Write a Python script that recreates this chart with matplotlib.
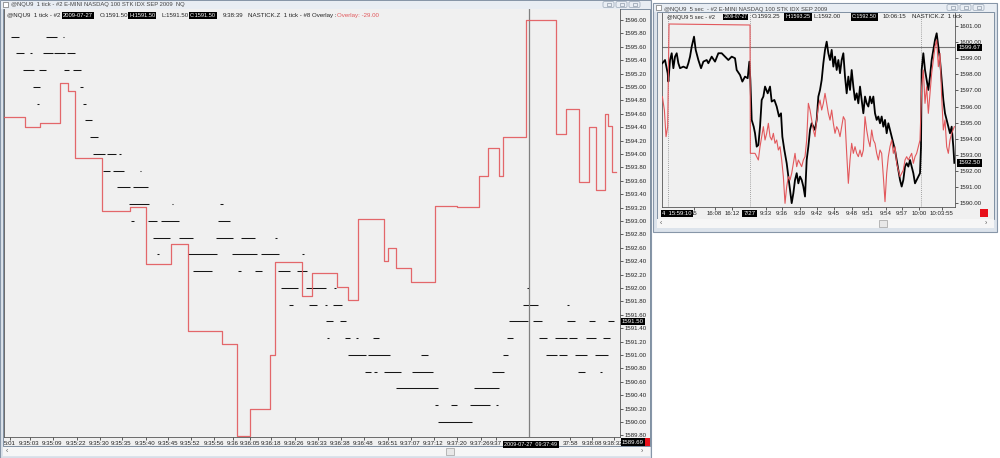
import matplotlib
matplotlib.use('Agg')
import matplotlib.pyplot as plt
from matplotlib.patches import Rectangle, FancyBboxPatch
import matplotlib.transforms as mtrans
import numpy as np

plt.rcParams['font.family'] = ['Liberation Sans', 'DejaVu Sans']

W, H = 1000, 458

# ---------------- LEFT CHART DATA (@NQU9 1 tick) ----------------
left_price_ticks = np.round(np.arange(1589.80, 1596.01, 0.20), 2)

left_time_labels = ["5:01", "9:35:03", "9:35:09", "9:35:22", "9:35:30", "9:35:35", "9:35:40",
                    "9:35:45", "9:35:52", "9:35:56", "9:36", "9:36:05", "9:36:18", "9:36:26",
                    "9:36:33", "9:36:38", "9:36:48", "9:36:51", "9:37:07", "9:37:12", "9:37:20",
                    "9:37:26", "9:37", "37:58", "9:38:08", "9:38:32"]
left_time_pos = [10, 29.5, 52.5, 76.5, 99.5, 121.5, 145.5, 168, 190.5, 213.5, 233, 249.5, 271,
                 294.5, 317.5, 340.5, 363.5, 387.5, 410.5, 433.5, 457, 480.5, 496, 570, 592, 613.5]

# 1-tick prints: price level -> runs of consecutive ticks (start bar, end bar)
tick_runs = {
    1595.75: [(11, 19), (46, 57), (63, 64)],
    1595.50: [(16, 24), (30, 32), (43, 53), (54, 65), (67, 75)],
    1595.25: [(23, 34), (39, 46), (64, 69), (73, 81)],
    1595.00: [(33, 40), (80, 83)],
    1594.75: [(37, 39), (83, 86)],
    1594.50: [(85, 92)],
    1594.25: [(90, 98)],
    1594.00: [(93, 105), (107, 116), (119, 121)],
    1593.75: [(103, 110), (113, 124), (140, 141)],
    1593.50: [(117, 130), (133, 148)],
    1593.25: [(129, 149), (172, 173), (220, 223)],
    1593.00: [(131, 134), (148, 157), (161, 179), (218, 230)],
    1592.75: [(153, 170), (179, 193), (216, 233), (241, 255), (275, 277)],
    1592.50: [(157, 159), (188, 217), (232, 257), (261, 279), (302, 304)],
    1592.25: [(193, 212), (238, 241), (255, 262), (278, 290), (297, 307)],
    1592.00: [(281, 298), (306, 326), (334, 336), (527, 529)],
    1591.75: [(289, 293), (309, 317), (325, 327), (333, 342), (523, 538), (567, 569)],
    1591.50: [(326, 333), (340, 346), (509, 528), (533, 542), (567, 575), (589, 595), (608, 614)],
    1591.25: [(327, 329), (345, 350), (356, 358), (373, 379), (507, 513), (539, 547), (555, 567),
              (569, 577), (586, 596), (603, 610)],
    1591.00: [(348, 366), (368, 390), (421, 428), (503, 508), (546, 557), (559, 567), (575, 587),
              (595, 608)],
    1590.75: [(365, 371), (374, 377), (384, 401), (412, 433), (492, 504), (578, 585), (600, 602)],
    1590.50: [(396, 438), (474, 499)],
    1590.25: [(435, 438), (451, 457), (470, 490), (496, 498)],
    1590.00: [(438, 472)],
    1589.75: [(449, 452), (466, 471)],
}

# NASTICK.Z overlay (step line)
nastick_x = [4, 25, 40, 60, 68, 74.5, 102, 130, 146, 171, 187.5, 222, 237, 250, 270, 275, 302,
             312, 337, 348, 358, 384, 388, 396, 411, 435, 457, 479, 488, 499, 503, 526, 556, 566,
             579, 589, 596, 605, 608, 612, 616]
nastick_v = [26, 16, 20, 60, 52, -15, -68, -64, -121, -101, -188, -201, -293, -266, -212, -119,
             -153, -130, -144, -157, -76, -118, -105, -125, -139, -63, -64, -33, -5, -33, 6, 123,
             9, 34, -39, 16, -47, 29, 17, -29, -29]

left_last_price = 1591.50
left_cross_x = 529
left_cross_label = "2009-07-27  09:37:49"

# ---------------- RIGHT CHART DATA (@NQU9 5 sec) ----------------
right_price_ticks = [1590, 1591, 1592, 1593, 1594, 1595, 1596, 1597, 1598, 1599, 1600, 1601]
right_x = [22, 30, 38, 40, 45, 50, 55, 60, 65, 70, 75, 85, 95, 100, 105, 110, 117, 122, 130, 138,
           145, 155, 160, 170, 180, 190, 200, 210, 220, 230, 240, 245, 255, 262, 270, 278, 283,
           286, 290, 296, 300, 305, 310, 315, 320, 325, 330, 338, 345, 350, 358, 365, 372, 378,
           382, 388, 395, 400, 405, 410, 415, 420, 425, 430, 435, 440, 445, 450, 455, 460, 465,
           470, 475, 480, 485, 490, 495, 500, 505, 510, 515, 520, 525, 530, 535, 540, 545, 550,
           555, 560, 565, 570, 575, 580, 585, 590, 595, 600, 605, 610, 615, 620, 625, 630, 635,
           640, 645, 650, 655, 660, 665, 670, 675, 680, 685, 690, 695, 700, 705, 710, 715, 720,
           725, 730, 735, 740, 745, 750, 755, 760, 765, 770, 775, 780, 785, 790, 795, 798, 800,
           805, 810, 815, 820, 825, 830, 835, 840, 845, 850, 855, 860, 865, 870, 875, 880, 885,
           890, 895, 898]
right_price = [1598.69, 1598.89, 1598.07, 1597.55, 1598.89, 1599.31, 1598.38, 1599.10, 1599.31,
               1598.69, 1598.38, 1598.48, 1598.38, 1598.69, 1599.10, 1599.72, 1600.34, 1599.52,
               1598.89, 1598.38, 1598.79, 1598.89, 1598.69, 1599.10, 1598.79, 1599.31, 1599.31,
               1599.10, 1598.89, 1599.10, 1599.00, 1598.27, 1597.96, 1597.55, 1597.86, 1597.76,
               1598.79, 1597.65, 1595.17, 1594.75, 1594.34, 1593.51, 1593.61, 1594.75, 1596.41,
               1596.62, 1597.24, 1596.82, 1597.24, 1596.31, 1596.41, 1596.00, 1595.38, 1595.58,
               1594.13, 1593.30, 1592.48, 1591.65, 1590.82, 1590.00, 1590.61, 1591.44, 1591.86,
               1591.23, 1591.65, 1591.44, 1591.03, 1590.41, 1592.68, 1593.51, 1594.55, 1594.96,
               1594.75, 1594.55, 1595.17, 1596.62, 1597.03, 1597.65, 1598.69, 1599.52, 1600.03,
               1599.31, 1598.89, 1599.52, 1598.48, 1599.10, 1598.27, 1598.89, 1598.07, 1598.89,
               1599.31, 1597.86, 1596.82, 1597.86, 1597.03, 1598.27, 1597.24, 1596.41, 1596.82,
               1596.20, 1597.24, 1596.41, 1595.58, 1596.62, 1596.20, 1596.00, 1596.62, 1596.20,
               1596.62, 1595.58, 1595.17, 1595.38, 1594.96, 1595.38, 1594.75, 1595.17, 1594.34,
               1594.96, 1594.55, 1594.13, 1593.72, 1593.30, 1592.68, 1592.06, 1591.44, 1591.03,
               1591.44, 1592.27, 1592.48, 1592.27, 1592.68, 1592.27, 1591.86, 1591.23, 1591.44,
               1591.65, 1591.86, 1593.51, 1598.27, 1599.31, 1598.27, 1597.65, 1597.03, 1597.86,
               1598.89, 1599.52, 1600.14, 1600.55, 1599.72, 1598.89, 1597.65, 1596.41, 1595.58,
               1595.17, 1594.75, 1594.34, 1594.75, 1593.50, 1592.50]

red_right_x = [22, 28, 33, 38, 42, 285, 286, 300, 305, 310, 315, 320, 325, 330, 335, 340, 345, 350,
               355, 360, 365, 370, 375, 380, 385, 390, 395, 400, 405, 410, 415, 420, 425, 430, 435,
               440, 445, 450, 455, 460, 465, 470, 475, 480, 485, 490, 495, 500, 505, 510, 515, 520,
               525, 530, 535, 540, 545, 550, 555, 560, 565, 570, 575, 580, 585, 590, 595, 600, 605,
               610, 615, 620, 625, 630, 635, 640, 645, 650, 655, 660, 665, 670, 675, 680, 685, 690,
               695, 700, 705, 710, 715, 720, 725, 730, 735, 740, 745, 750, 755, 760, 765, 770, 775,
               780, 785, 790, 795, 800, 805, 810, 815, 820, 825, 830, 835, 840, 845, 850, 855, 860,
               865, 870, 875, 880, 885, 890, 898]
red_right_v = [100, 60, -20, 10, 318, 315, -70, -70, -80, -90, -50, -20, 10, -30, -10, 20, -20, -30,
               -10, -40, -30, -60, -50, -90, -140, -220, -170, -140, -150, -130, -100, -70, -110,
               -90, -100, -110, -90, -80, -30, 80, 60, 30, 0, -20, 30, 70, 90, 60, 80, 110, 80, 50,
               30, 60, 20, -10, 10, 0, -20, 10, 40, 30, -70, -160, -90, -40, -70, -50, -70, -80,
               -60, -80, -60, 40, 0, -30, -50, 0, -30, -40, -70, -90, -60, -70, -140, -215, -130,
               -80, -50, -30, -70, -50, -100, -120, -140, -130, -120, -90, -80, -90, -80, -70, -100,
               -80, -70, -50, -30, 130, 180, 80, 130, 50, 110, 170, 210, 250, 270, 190, 230, 100, 0,
               30, -50, -70, -30, -10, 10]

right_time_labels = ["55", "16:08", "16:12", "9:33", "9:36", "9:39", "9:42", "9:45", "9:48",
                     "9:51", "9:54", "9:57", "10:00", "10:03:55"]
right_time_pos = [118, 178.5, 231, 331.5, 381, 433.5, 486, 535.5, 589.5, 639, 691.5, 741, 792, 859.5]
right_session_marks = [40, 285, 797]
right_hline = 1599.67
right_last_price = 1592.50

FS = 4.4
RED = '#e2585c'
FRAME = '#dce3eb'
PANEL = '#f0f0f0'
BORDER = '#8796a8'

fig = plt.figure(figsize=(10, 4.58), dpi=100)
fig.patch.set_facecolor('white')


def rect(x0, y0, x1, y1):
    return [x0 / W, 1 - y1 / H, (x1 - x0) / W, (y1 - y0) / H]


bg = fig.add_axes([0, 0, 1, 1], zorder=0)
bg.set_xlim(0, W); bg.set_ylim(H, 0); bg.axis('off')

ov = fig.add_axes([0, 0, 1, 1], zorder=10)
ov.set_xlim(0, W); ov.set_ylim(H, 0); ov.axis('off'); ov.patch.set_visible(False)


def window(x0, y0, x1, y1, title, title_y, btn_x):
    bg.add_patch(Rectangle((x0, y0), x1 - x0, y1 - y0, fc=FRAME, ec=BORDER, lw=0.8))
    bg.add_patch(Rectangle((x0 + 1, y0 + 1), x1 - x0 - 2, 8, fc='#e8edf3', ec='none'))
    bg.add_patch(Rectangle((x0 + 3, y0 + 2), 5, 5, fc='white', ec='#555', lw=0.4))
    bg.text(x0 + 11, y0 + title_y, title, fontsize=FS - 0.2, color='#444', va='center', ha='left')
    for bx in btn_x:
        bg.add_patch(FancyBboxPatch((bx, y0 + 1.5), 11, 6, boxstyle='round,pad=0,rounding_size=1.5',
                                    fc='#e9eef4', ec='#9aa8b8', lw=0.5))
        bg.add_patch(Rectangle((bx + 3.5, y0 + 3), 4, 3, fc='none', ec='#7a8899', lw=0.4))


def boxed(axis, x, y, s, ha='left', fs=FS, transform=None):
    kw = {} if transform is None else {'transform': transform}
    axis.text(x, y, s, fontsize=fs, color='white', ha=ha, va='center', clip_on=False,
              bbox=dict(boxstyle='square,pad=0.2', fc='black', ec='none'), zorder=20, **kw)


def plain(x, y, s, color='#222222', fs=FS):
    ov.text(x, y, s, fontsize=fs, color=color, va='center', ha='left')


# ---------- window chrome ----------
window(0, 0, 651, 458, "@NQU9  1 tick - #2 E-MINI NASDAQ 100 STK IDX SEP 2009  NQ", 4.5,
       [603, 616, 629])
bg.add_patch(Rectangle((3, 9), 647, 437, fc=PANEL, ec='#6f8296', lw=0.6))
bg.add_patch(Rectangle((3, 447), 647, 9, fc='#f6f6f6', ec='none'))
bg.add_patch(Rectangle((446, 447.5), 8, 7, fc='#e8e8e8', ec='#a0a0a0', lw=0.5))
bg.text(6, 451.5, '\u2039', fontsize=5, color='#555', va='center')
bg.text(641, 451.5, '\u203a', fontsize=5, color='#555', va='center')
bg.add_patch(Rectangle((642, 437.5), 8, 8.5, fc='#e8101a', ec='none'))

window(653, 3, 997, 232, "@NQU9  5 sec  - #2 E-MINI NASDAQ 100 STK IDX SEP 2009", 6.5,
       [947, 960, 973])
bg.add_patch(Rectangle((657, 12), 337, 207, fc=PANEL, ec='#6f8296', lw=0.6))
bg.add_patch(Rectangle((657, 219), 337, 9, fc='#f6f6f6', ec='none'))
bg.add_patch(Rectangle((879, 219.5), 8, 7, fc='#e8e8e8', ec='#a0a0a0', lw=0.5))
bg.text(660, 223.5, '\u2039', fontsize=5, color='#555', va='center')
bg.text(985, 223.5, '\u203a', fontsize=5, color='#555', va='center')
bg.add_patch(Rectangle((980, 209), 7.5, 8, fc='#e8101a', ec='none'))

# ---------- LEFT chart ----------
L_X0, L_Y0, L_X1, L_Y1 = 4, 9, 620, 437
ax1 = fig.add_axes(rect(L_X0, L_Y0, L_X1, L_Y1), zorder=1)
ax1.set_facecolor(PANEL)
ax1.set_xlim(4, 620)
ax1.set_ylim(1589.776, 1596.164)
for price, runs in tick_runs.items():
    for a, b in runs:
        ax1.hlines(price, a, b, color='#151515', lw=0.75)
ax1.axvline(left_cross_x, color='#808080', lw=0.9)
ax1.yaxis.tick_right()
ax1.set_yticks(left_price_ticks)
ax1.yaxis.set_major_formatter(matplotlib.ticker.FuncFormatter(lambda v, p: f"{v:.2f}"))
ax1.set_xticks(left_time_pos)
ax1.set_xticklabels(left_time_labels)
ax1.tick_params(axis='y', direction='out', length=2, width=0.5, labelsize=FS, pad=1,
                colors='#222222')
ax1.tick_params(axis='x', direction='out', length=2, width=0.5, labelsize=FS, pad=1.2,
                colors='#222222')
ax1.spines['top'].set_visible(False)
for s in ['left', 'right', 'bottom']:
    ax1.spines[s].set_color('#555555'); ax1.spines[s].set_linewidth(0.6)

ax1r = fig.add_axes(rect(L_X0, L_Y0, L_X1, L_Y1), sharex=ax1, zorder=2)
ax1r.patch.set_visible(False)
ax1r.axis('off')
ax1r.set_ylim(-294, 134)
ax1r.plot(nastick_x, nastick_v, drawstyle='steps-post', color=RED, lw=0.9, alpha=0.9)

tl = mtrans.blended_transform_factory(ax1.transAxes, ax1.transData)
boxed(ax1, 1.003, left_last_price, f"{left_last_price:.2f}", transform=tl)
boxed(ax1, left_cross_x + 2, 1589.776 - 0.115, left_cross_label, ha='center', fs=4.0,
      transform=ax1.transData)
boxed(ax1, 1.003, 1589.70, "1589.69", transform=tl)

# info line (left)
iy = 15.5
plain(7, iy, "@NQU9  1 tick - #2")
boxed(ov, 63, iy, "2009-07-27", fs=4.2)
plain(100, iy, "O:1591.50")
boxed(ov, 129, iy, "H:1591.50", fs=4.1)
plain(161, iy, "L:1591.50")
boxed(ov, 190, iy, "C:1591.50", fs=4.1)
plain(223, iy, "9:38:39")
plain(248, iy, "NASTICK.Z  1 tick - #8 Overlay :")
plain(337, iy, "Overlay: -29.00", color=RED)

# ---------- RIGHT chart ----------
R_X0, R_Y0, R_X1, R_Y1 = 661.7, 13, 955, 207
ax2 = fig.add_axes(rect(R_X0, R_Y0, R_X1, R_Y1), zorder=1)
ax2.set_facecolor(PANEL)
ax2.set_xlim(20, 900)
ax2.set_ylim(1589.76, 1601.81)
for m in right_session_marks:
    ax2.axvline(m, color='#888888', lw=0.6, ls=(0, (1, 1.5)))
ax2.axhline(right_hline, color='#777777', lw=0.8)
ax2.plot(right_x, right_price, color='black', lw=1.3, zorder=3)
ax2.yaxis.tick_right()
ax2.set_yticks(right_price_ticks)
ax2.yaxis.set_major_formatter(matplotlib.ticker.FuncFormatter(lambda v, p: f"{v:.2f}"))
ax2.set_xticks(right_time_pos)
ax2.set_xticklabels(right_time_labels)
ax2.tick_params(axis='y', direction='out', length=2, width=0.5, labelsize=FS, pad=1,
                colors='#222222')
ax2.tick_params(axis='x', direction='out', length=2, width=0.5, labelsize=FS, pad=1.2,
                colors='#222222')
ax2.spines['top'].set_visible(False)
for s in ['left', 'right', 'bottom']:
    ax2.spines[s].set_color('#555555'); ax2.spines[s].set_linewidth(0.6)

ax2r = fig.add_axes(rect(R_X0, R_Y0, R_X1, R_Y1), sharex=ax2, zorder=2)
ax2r.patch.set_visible(False)
ax2r.axis('off')
ax2r.set_ylim(-231, 351)
ax2r.plot(red_right_x, red_right_v, color=RED, lw=0.8)

bt = mtrans.blended_transform_factory(ax2.transAxes, ax2.transData)
boxed(ax2, 1.012, right_hline, f"{right_hline:.2f}", transform=bt)
boxed(ax2, 1.012, right_last_price, f"{right_last_price:.2f}", transform=bt)
boxed(ov, 662.5, 213.5, "4  15:59:10", fs=4.2)
boxed(ov, 743.5, 213.5, "7/27")

# info line (right)
iy2 = 17
plain(667, iy2, "@NQU9 5 sec - #2", fs=4.1)
boxed(ov, 723.5, iy2, "2009-07-27", fs=3.4)
plain(752, iy2, "O:1593.25")
boxed(ov, 785.5, iy2, "H:1593.25", fs=3.9)
plain(814, iy2, "L:1592.00")
boxed(ov, 852, iy2, "C:1592.50", fs=3.9)
plain(883, iy2, "10:06:15")
plain(912, iy2, "NASTICK.Z  1 tick")

fig.savefig('out.png', dpi=100, facecolor=fig.get_facecolor())
